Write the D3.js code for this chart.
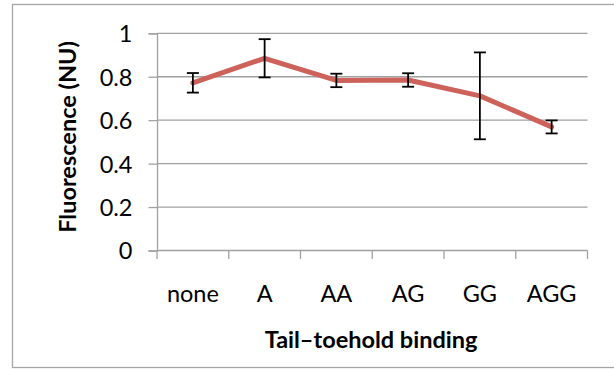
<!DOCTYPE html>
<html>
<head>
<meta charset="utf-8">
<script src="https://cdn.jsdelivr.net/npm/d3@7"></script>
<style>
  html, body { margin: 0; padding: 0; background: #fff; }
  svg { display: block; }
</style>
</head>
<body>
<svg id="chart" width="614" height="369"></svg>
<script>
// Tail–toehold binding variants and normalized fluorescence readings
const categories = ["none", "A", "AA", "AG", "GG", "AGG"];
const fluorescence = [0.772, 0.885, 0.783, 0.785, 0.712, 0.569];
const errors = [0.045, 0.088, 0.031, 0.031, 0.200, 0.030];
const yTicks = [0, 0.2, 0.4, 0.6, 0.8, 1];

const W = 614, H = 369;
const margin = { left: 157, right: 26.5, top: 33.3, bottom: 118.5 };
const font = "Lato, 'Open Sans', sans-serif";
const fs = 23.5;

const svg = d3.select("#chart");

// chart frame
svg.append("rect")
  .attr("x", 12.5).attr("y", 4.5)
  .attr("width", W).attr("height", 363)
  .attr("fill", "#fff").attr("stroke", "#a6a6a6").attr("stroke-width", 1.3);

const x = d3.scaleBand()
  .domain(categories)
  .range([margin.left, W - margin.right])
  .padding(0);

const y = d3.scaleLinear()
  .domain([0, 1])
  .range([H - margin.bottom, margin.top]);

// horizontal gridlines
svg.append("g")
  .selectAll("line")
  .data(yTicks.filter(d => d > 0))
  .join("line")
  .attr("x1", margin.left).attr("x2", W - margin.right)
  .attr("y1", d => y(d)).attr("y2", d => y(d))
  .attr("stroke", "#a0a0a0").attr("stroke-width", 1.3);

// y axis
const yAxis = svg.append("g")
  .attr("transform", `translate(${margin.left},0)`)
  .call(d3.axisLeft(y).tickValues(yTicks).tickSize(8.5).tickPadding(16)
    .tickFormat(d => d3.format("")(+d.toFixed(1))));
yAxis.select(".domain").attr("stroke", "#a0a0a0").attr("stroke-width", 1.3);
yAxis.selectAll(".tick line").attr("stroke", "#a0a0a0").attr("stroke-width", 1.3);
yAxis.selectAll("text")
  .attr("font-family", font).attr("font-size", fs).attr("fill", "#000")
  .attr("dy", "0.36em");

// x axis with ticks on category boundaries
const xAxisG = svg.append("g")
  .attr("transform", `translate(0,${y(0)})`);
xAxisG.append("line")
  .attr("x1", margin.left).attr("x2", W - margin.right)
  .attr("stroke", "#a0a0a0").attr("stroke-width", 1.3);
const bounds = categories.map(c => x(c)).concat([x.range()[1]]);
xAxisG.selectAll(".bt")
  .data(bounds)
  .join("line")
  .attr("class", "bt")
  .attr("x1", d => d).attr("x2", d => d)
  .attr("y1", 0).attr("y2", 8.5)
  .attr("stroke", "#a0a0a0").attr("stroke-width", 1.3);
xAxisG.selectAll(".cl")
  .data(categories)
  .join("text")
  .attr("class", "cl")
  .attr("x", d => x(d) + x.bandwidth() / 2)
  .attr("y", 51)
  .attr("text-anchor", "middle")
  .attr("font-family", font).attr("font-size", fs).attr("fill", "#000")
  .text(d => d);

const cx = d => x(d) + x.bandwidth() / 2;

// series line
const line = d3.line()
  .x((d, i) => cx(categories[i]))
  .y(d => y(d));
svg.append("path")
  .datum(fluorescence)
  .attr("d", line)
  .attr("fill", "none")
  .attr("stroke", "#cd625b")
  .attr("stroke-width", 5)
  .attr("stroke-linejoin", "round")
  .attr("stroke-linecap", "round");

// error bars
const eb = svg.append("g").attr("stroke", "#000").attr("stroke-width", 1.8);
categories.forEach((c, i) => {
  const v = fluorescence[i], e = errors[i];
  const xc = cx(c);
  eb.append("line").attr("x1", xc).attr("x2", xc)
    .attr("y1", y(v + e)).attr("y2", y(v - e));
  [v + e, v - e].forEach(t => {
    eb.append("line").attr("x1", xc - 6).attr("x2", xc + 6)
      .attr("y1", y(t)).attr("y2", y(t));
  });
});

// axis titles
svg.append("text")
  .attr("transform", `translate(76,${(y(0) + y(1)) / 2 - 5}) rotate(-90)`)
  .attr("text-anchor", "middle")
  .attr("font-family", font).attr("font-size", fs).attr("font-weight", "bold")
  .text("Fluorescence (NU)");

svg.append("text")
  .attr("x", 371).attr("y", 348)
  .attr("text-anchor", "middle")
  .attr("font-family", font).attr("font-size", fs).attr("font-weight", "bold")
  .text("Tail–toehold binding");
</script>
</body>
</html>
